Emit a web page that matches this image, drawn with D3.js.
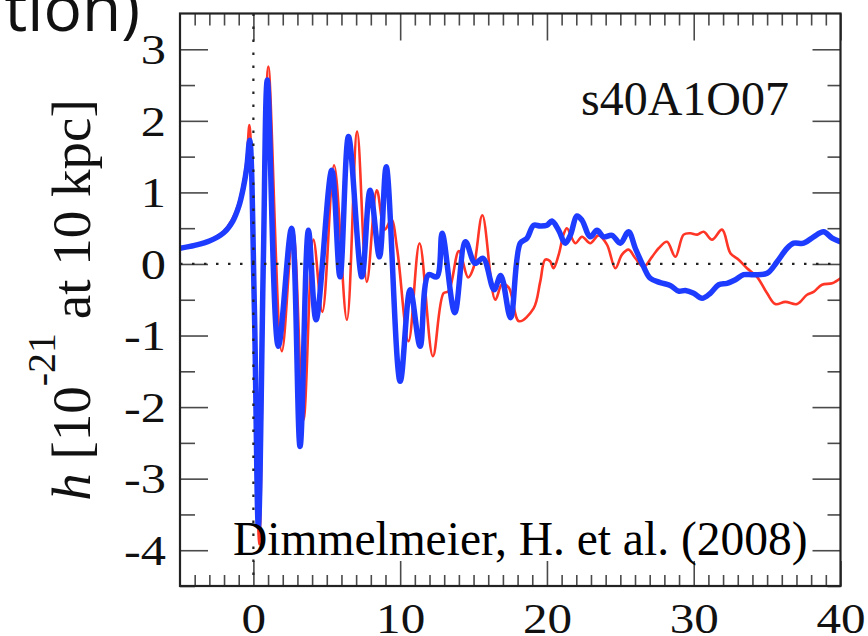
<!DOCTYPE html>
<html>
<head>
<meta charset="utf-8">
<script src="https://cdn.jsdelivr.net/npm/d3@7"></script>
<style>
  html, body { margin: 0; padding: 0; background: #fff; }
  svg { display: block; }
</style>
</head>
<body>
<svg id="chart" width="868" height="636"></svg>
<script>
  // waveform samples [time (ms), h (1e-21 at 10 kpc)]
  const redWave = [
    [-5, 0.22], [-4, 0.27], [-3, 0.33], [-2, 0.46], [-1.4, 0.64], [-1.0, 0.85], [-0.7, 1.12],
    [-0.45, 1.48], [-0.27, 1.94], [0.07, -0.6], [0.4, -3.92], [0.72, 0.1], [1.02, 2.76],
    [1.94, -1.22], [2.7, 0.48], [3.41, -2.18], [4.09, 0.34], [4.7, -0.67], [5.5, 1.38],
    [6.37, -0.78], [7.07, 1.85], [7.73, -0.25], [8.41, 1.03], [8.95, 0.48], [9.4, 0.62],
    [9.8, 0.2], [10.57, -1.08], [11.32, 0.29], [12.23, -1.29], [12.95, -0.41], [13.3, -0.38],
    [14.0, 0.18], [14.63, -0.19], [15.0, -0.05], [15.6, 0.68], [16.48, -0.5], [16.95, -0.28],
    [17.4, -0.33], [18.1, -0.8], [19.09, -0.62], [19.54, -0.25], [19.88, 0.06], [20.2, 0.04],
    [20.45, -0.06], [20.8, 0.13], [21.13, 0.41], [21.36, 0.5], [21.93, 0.29], [22.39, 0.38],
    [22.95, 0.29], [23.52, 0.4], [24.09, 0.27], [24.66, -0.06], [25.11, 0.13], [25.56, 0.2],
    [26.02, 0.08], [26.59, -0.04], [27.16, 0.1], [27.61, 0.22], [28.18, 0.31], [28.75, 0.1],
    [29.31, 0.41], [29.77, 0.43], [30.23, 0.41], [30.68, 0.45], [31.25, 0.34], [31.93, 0.48],
    [32.5, 0.15], [33.06, 0.06], [33.63, -0.06], [34.31, -0.18], [35.0, -0.41], [35.56, -0.56],
    [36.24, -0.53], [37.04, -0.56], [37.72, -0.43], [38.17, -0.39], [38.74, -0.29],
    [39.43, -0.27], [40, -0.2],
  ];

  const blueWave = [
    [-5, 0.22], [-4, 0.26], [-3, 0.32], [-2, 0.44], [-1.4, 0.6], [-1.0, 0.8], [-0.7, 1.05],
    [-0.45, 1.35], [-0.25, 1.73], [0.07, -0.64], [0.34, -3.67], [0.68, 0.06], [0.95, 2.57],
    [1.7, -1.15], [2.6, 0.5], [3.18, -2.55], [3.75, 0.47], [4.27, -0.78], [5.34, 1.31],
    [5.9, -0.18], [6.48, 1.78], [7.39, -0.18], [7.95, 1.03], [8.59, 0.1], [9.05, 1.36],
    [10.0, -1.64], [10.68, -0.36], [11.36, -1.15], [11.93, -0.15], [12.5, -0.18], [12.86, 0.43],
    [13.72, -0.68], [14.45, 0.31], [15.1, 0.01], [15.65, 0.08], [16.4, -0.36], [16.85, -0.16],
    [17.52, -0.75], [18.18, 0.29], [18.64, 0.36], [19.09, 0.54], [19.54, 0.53], [20.0, 0.54],
    [20.34, 0.6], [20.8, 0.47], [21.25, 0.29], [21.59, 0.4], [22.05, 0.67], [22.39, 0.61],
    [22.95, 0.38], [23.41, 0.47], [23.86, 0.38], [24.43, 0.4], [25.0, 0.29], [25.56, 0.45],
    [26.02, 0.22], [26.59, -0.04], [27.04, -0.2], [27.72, -0.26], [28.4, -0.3], [28.97, -0.38],
    [29.43, -0.37], [30.0, -0.41], [30.57, -0.48], [31.13, -0.41], [31.7, -0.29], [32.27, -0.27],
    [32.84, -0.22], [33.4, -0.15], [34.08, -0.15], [35.0, -0.13], [35.68, 0.03], [36.36, 0.22],
    [36.81, 0.29], [37.49, 0.29], [38.17, 0.38], [38.85, 0.45], [39.43, 0.36], [40, 0.31],
  ];

  const xMajor = [0, 10, 20, 30, 40];
  const xMinor = d3.range(-4, 40).filter((d) => d % 10 !== 0);
  const yMajor = [-4, -3, -2, -1, 0, 1, 2, 3];
  const yMinor = [-4.5, -3.5, -2.5, -1.5, -0.5, 0.5, 1.5, 2.5];

  const modelLabel = "s40A1O07";
  const citation = "Dimmelmeier, H. et al. (2008)";
  const slideFragment = "tion)";

  const serif = "'Liberation Serif', 'Times New Roman', Times, serif";
  const tickColor = "#4a4a4a";

  const svg = d3.select("#chart");
  const frame = { left: 180, right: 840.5, top: 13.5, bottom: 586 };

  const x = d3.scaleLinear().domain([-5, 40]).range([frame.left, frame.right]);
  const y = d3.scaleLinear().domain([-4.5, 3.5]).range([frame.bottom, frame.top]);

  svg.append("rect").attr("width", 868).attr("height", 636).attr("fill", "#fff");

  // leftover heading from the slide, cut at the top edge
  svg.append("text")
    .attr("x", 140)
    .attr("y", 31)
    .attr("text-anchor", "end")
    .style("font-family", "'Open Sans', 'Noto Sans', sans-serif")
    .style("font-size", "64px")
    .style("fill", "#111")
    .text(slideFragment);

  svg.append("defs")
    .append("clipPath")
    .attr("id", "plot-clip")
    .append("rect")
    .attr("x", frame.left)
    .attr("y", frame.top)
    .attr("width", frame.right - frame.left)
    .attr("height", frame.bottom - frame.top);

  const styleTicks = (g) => {
    g.select(".domain").remove();
    g.selectAll(".tick line").attr("stroke", tickColor).attr("stroke-width", 1.6);
  };

  // bottom / top ticks, pointing inward
  svg.append("g")
    .attr("transform", `translate(0, ${frame.bottom})`)
    .call(d3.axisBottom(x).tickValues(xMinor).tickSize(-11).tickFormat(""))
    .call(styleTicks);
  const xAxis = svg.append("g")
    .attr("transform", `translate(0, ${frame.bottom})`)
    .call(d3.axisBottom(x).tickValues(xMajor).tickSize(-25).tickPadding(14).tickFormat(d3.format("d")))
    .call(styleTicks);
  svg.append("g")
    .attr("transform", `translate(0, ${frame.top})`)
    .call(d3.axisTop(x).tickValues(xMinor).tickSize(-12).tickFormat(""))
    .call(styleTicks);
  svg.append("g")
    .attr("transform", `translate(0, ${frame.top})`)
    .call(d3.axisTop(x).tickValues(xMajor).tickSize(-27).tickFormat(""))
    .call(styleTicks);

  // left / right ticks
  svg.append("g")
    .attr("transform", `translate(${frame.left}, 0)`)
    .call(d3.axisLeft(y).tickValues(yMinor).tickSize(-15).tickFormat(""))
    .call(styleTicks);
  const yAxis = svg.append("g")
    .attr("transform", `translate(${frame.left}, 0)`)
    .call(d3.axisLeft(y).tickValues(yMajor).tickSize(-28).tickPadding(14).tickFormat(d3.format("d")))
    .call(styleTicks);
  svg.append("g")
    .attr("transform", `translate(${frame.right}, 0)`)
    .call(d3.axisRight(y).tickValues(yMinor).tickSize(-13).tickFormat(""))
    .call(styleTicks);
  svg.append("g")
    .attr("transform", `translate(${frame.right}, 0)`)
    .call(d3.axisRight(y).tickValues(yMajor).tickSize(-28).tickFormat(""))
    .call(styleTicks);

  // tick labels are a bit wider than plain Times in the figure
  xAxis.selectAll(".tick text")
    .attr("y", 17)
    .attr("dy", "0.71em")
    .attr("transform", "scale(1.17,1)")
    .style("font-family", serif)
    .style("font-size", "42px")
    .style("fill", "#111");
  yAxis.selectAll(".tick text")
    .attr("x", -14 / 1.2)
    .attr("dy", "0.34em")
    .attr("transform", "scale(1.2,1)")
    .style("font-family", serif)
    .style("font-size", "42px")
    .style("fill", "#111")
    .text((d) => (d < 0 ? "-" + Math.abs(d) : d));

  const line = d3.line()
    .x((d) => x(d[0]))
    .y((d) => y(d[1]))
    .curve(d3.curveCatmullRom.alpha(0.5));

  const plot = svg.append("g").attr("clip-path", "url(#plot-clip)");

  plot.append("path")
    .datum(redWave)
    .attr("d", line)
    .attr("fill", "none")
    .attr("stroke", "#ff3526")
    .attr("stroke-width", 2.6)
    .attr("stroke-linejoin", "round");

  plot.append("path")
    .datum(blueWave)
    .attr("d", line)
    .attr("fill", "none")
    .attr("stroke", "#1e3cff")
    .attr("stroke-width", 5.5)
    .attr("stroke-linejoin", "round");

  // dotted reference lines at t = 0 and h = 0
  plot.append("line")
    .attr("x1", frame.left).attr("x2", frame.right)
    .attr("y1", y(0)).attr("y2", y(0))
    .attr("stroke", "#222")
    .attr("stroke-width", 2.2)
    .attr("stroke-dasharray", "2.5,9.5");
  plot.append("line")
    .attr("x1", x(0)).attr("x2", x(0))
    .attr("y1", frame.top).attr("y2", frame.bottom)
    .attr("stroke", "#222")
    .attr("stroke-width", 2.2)
    .attr("stroke-dasharray", "2.5,10.5");

  svg.append("rect")
    .attr("x", frame.left)
    .attr("y", frame.top)
    .attr("width", frame.right - frame.left)
    .attr("height", frame.bottom - frame.top)
    .attr("fill", "none")
    .attr("stroke", "#222")
    .attr("stroke-width", 2.2);

  svg.append("text")
    .attr("x", 581)
    .attr("y", 115)
    .style("font-family", serif)
    .style("font-size", "48px")
    .style("fill", "#111")
    .text(modelLabel);

  svg.append("text")
    .attr("x", 233)
    .attr("y", 555)
    .style("font-family", serif)
    .style("font-size", "47.5px")
    .style("fill", "#000")
    .text(citation);

  // y axis title: h [10^-21 at 10 kpc]
  const yTitle = svg.append("text")
    .attr("transform", "translate(90, 300) rotate(-90)")
    .attr("text-anchor", "middle")
    .style("font-family", serif)
    .style("font-size", "55px")
    .style("fill", "#111");
  yTitle.append("tspan").style("font-style", "italic").text("h");
  yTitle.append("tspan").text(" [10");
  yTitle.append("tspan").attr("dy", -35).style("font-size", "40px").text("-21");
  yTitle.append("tspan").attr("dy", 35).text(" at 10 kpc]");
</script>
</body>
</html>
